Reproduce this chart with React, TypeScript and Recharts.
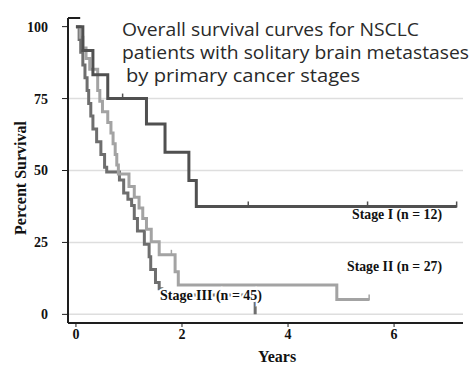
import { Line, LineChart, ReferenceLine, XAxis, YAxis } from "recharts";

const SERIF = "'Liberation Serif', 'Times New Roman', serif";
const SANS = "'Open Sans', 'DejaVu Sans', sans-serif";
const AXIS = "#1e1e1e";
const GRID = "#dedede";

const X_TICKS = [0, 2, 4, 6];
const Y_TICKS = [0, 25, 50, 75, 100];
const GRID_VALUES = [0, 25, 50, 75];

// [years, percent survival, censored?]
const STAGE_I: [number, number, boolean?][] = [
  [0, 100],
  [0.13, 91.7],
  [0.32, 83.3],
  [0.6, 75],
  [0.88, 75, true],
  [1.33, 66.2],
  [1.68, 56.3],
  [2.13, 46.5],
  [2.27, 37.5],
  [3.25, 37.5, true],
  [5.5, 37.5, true],
  [7.18, 37.5, true],
];

const STAGE_II: [number, number, boolean?][] = [
  [0, 100],
  [0.08, 96.3],
  [0.13, 92.6],
  [0.19, 88.9],
  [0.26, 85.2],
  [0.41, 77.8],
  [0.45, 74.1],
  [0.5, 70.4],
  [0.6, 66.7, true],
  [0.66, 63],
  [0.7, 59.3],
  [0.74, 55.6],
  [0.77, 51.9],
  [0.8, 48.8],
  [1.0, 44.4],
  [1.1, 40.7],
  [1.19, 37],
  [1.26, 33.3],
  [1.33, 29.6],
  [1.42, 25.2],
  [1.57, 20.7],
  [1.8, 20.7, true],
  [1.87, 14.8],
  [1.93, 10.2],
  [4.92, 5.2],
  [5.53, 5.2, true],
];

const STAGE_III: [number, number, boolean?][] = [
  [0, 100],
  [0.06, 95.5],
  [0.09, 91.1],
  [0.13, 86.7],
  [0.17, 82.2],
  [0.21, 77.8],
  [0.24, 73.3],
  [0.28, 68.9],
  [0.32, 64.4],
  [0.39, 60],
  [0.47, 55.6],
  [0.54, 51.1],
  [0.58, 49.5],
  [0.82, 46.7],
  [0.9, 42.2],
  [0.98, 40],
  [1.05, 37.8],
  [1.1, 33.3],
  [1.16, 29],
  [1.29, 24.4],
  [1.38, 20],
  [1.41, 15.6],
  [1.5, 11.1],
  [1.57, 8.9],
  [1.62, 6.7, true],
  [3.38, 0],
];

const toRows = (pts: [number, number, boolean?][]) =>
  pts.map(([t, s, c]) => ({ t, s, c: !!c }));

// censored observations get a small vertical tick
const censorDot = (color: string) => (p: any) => {
  const { cx, cy, payload, index } = p;
  if (!payload?.c) return <g key={index} />;
  return <line key={index} x1={cx} x2={cx} y1={cy - 5} y2={cy + 1} stroke={color} strokeWidth={1.5} />;
};

const SERIES = [
  { name: "III", data: toRows(STAGE_III), color: "#6e6e6e" },
  { name: "II", data: toRows(STAGE_II), color: "#a3a3a3" },
  { name: "I", data: toRows(STAGE_I), color: "#505050" },
];

const tickStyle = { fontFamily: SERIF, fontWeight: 700, fontSize: 14, fill: "#111" };

export default function App() {
  return (
    <div style={{ position: "fixed", left: 0, top: 0, width: 474, height: 369, background: "#fff" }}>
      <LineChart width={474} height={369} margin={{ top: 18, right: 11, bottom: 0, left: 0 }}>
        {GRID_VALUES.map((v) => (
          <ReferenceLine key={v} y={v} stroke={GRID} strokeWidth={1.5} />
        ))}
        <XAxis
          dataKey="t"
          type="number"
          domain={[-0.15, 7.3]}
          ticks={X_TICKS}
          allowDataOverflow
          height={46}
          tick={tickStyle}
          tickSize={4}
          tickMargin={2}
          tickLine={{ stroke: AXIS }}
          axisLine={{ stroke: AXIS, strokeWidth: 2 }}
        />
        <YAxis
          type="number"
          domain={[-3, 103]}
          ticks={Y_TICKS}
          allowDataOverflow
          width={68}
          tick={tickStyle}
          tickSize={6}
          tickMargin={14}
          tickLine={{ stroke: AXIS }}
          axisLine={{ stroke: AXIS, strokeWidth: 2 }}
        />
        <ReferenceLine
          segment={[
            { x: -0.15, y: 103 },
            { x: 0.08, y: 103 },
          ]}
          stroke={AXIS}
          strokeWidth={2}
        />
        {SERIES.map((s) => (
          <Line
            key={s.name}
            data={s.data}
            dataKey="s"
            type="stepAfter"
            stroke={s.color}
            strokeWidth={3}
            dot={censorDot(s.color)}
            activeDot={false}
            isAnimationActive={false}
          />
        ))}
      </LineChart>
      <svg width={474} height={369} style={{ position: "absolute", left: 0, top: 0, pointerEvents: "none" }}>
        <g fontFamily={SANS} fontSize={18} fill="#2a2a2a">
          <text x={122} y={36} textLength={297} lengthAdjust="spacingAndGlyphs">
            Overall survival curves for NSCLC
          </text>
          <text x={122} y={59} textLength={347} lengthAdjust="spacingAndGlyphs">
            patients with solitary brain metastases
          </text>
          <text x={126} y={82} textLength={234} lengthAdjust="spacingAndGlyphs">
            by primary cancer stages
          </text>
        </g>
        <g fontFamily={SERIF} fontWeight={700} fill="#111">
          <text x={352} y={219} fontSize={14} textLength={90} lengthAdjust="spacingAndGlyphs">
            Stage I (n = 12)
          </text>
          <text x={347} y={271} fontSize={14} textLength={95} lengthAdjust="spacingAndGlyphs">
            Stage II (n = 27)
          </text>
          <text
            x={160}
            y={300}
            fontSize={14}
            textLength={102}
            lengthAdjust="spacingAndGlyphs"
            stroke="#fff"
            strokeWidth={4}
            paintOrder="stroke"
          >
            Stage III (n = 45)
          </text>
          <text x={277} y={362} fontSize={16} textAnchor="middle">
            Years
          </text>
          <text x={26} y={178} fontSize={16} textAnchor="middle" transform="rotate(-90 26 178)">
            Percent Survival
          </text>
        </g>
      </svg>
    </div>
  );
}
